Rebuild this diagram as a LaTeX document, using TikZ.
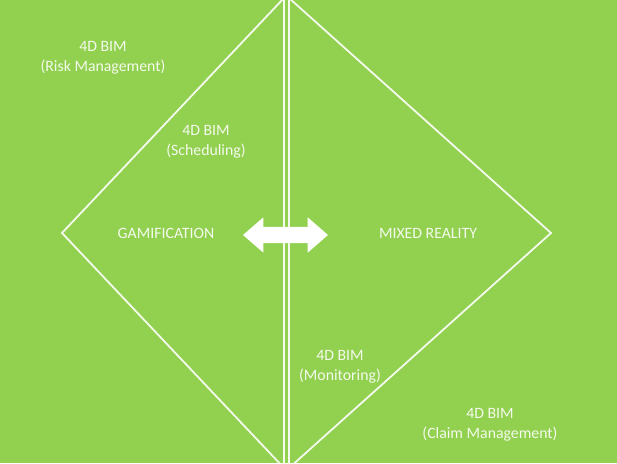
\documentclass[tikz,border=0pt]{standalone}
\usepackage{fontspec}
\setmainfont{Carlito}
\usetikzlibrary{shapes.arrows,positioning}
\definecolor{leafgreen}{RGB}{146,208,80}
\definecolor{chalk}{RGB}{244,250,236}

\begin{document}
\begin{tikzpicture}
	% Styles
	[
	x=1pt, y=-1pt,
	edge/.style={draw=chalk, line width=1.8pt},
	label/.style={text=chalk, align=center, font=\fontsize{15.8}{20}\selectfont, inner sep=0pt},
	swap/.style={double arrow, fill=white, inner xsep=0pt, inner ysep=8pt, minimum height=85pt,
		double arrow head extend=9.5pt, double arrow tip angle=82},
	]

	% Background
	\fill[leafgreen] (0,0) rectangle (617,463);
	\useasboundingbox (0,0) rectangle (617,463);
	\clip (0,0) rectangle (617,463);

	% Corners
	\coordinate (gtop)  at (284,-2);
	\coordinate (gleft) at (62,233);
	\coordinate (gbot)  at (284,468);
	\coordinate (mtop)  at (289,-2);
	\coordinate (mright) at (551,233);
	\coordinate (mbot)  at (289,468);

	% Nodes
	\node at (103,58)	(risk)	[label] {4D BIM\\(Risk Management)};
	\node at (206,142)	(sched)	[label] {4D BIM\\(Scheduling)};
	\node at (166,233)	(game)	[label] {GAMIFICATION};
	\node at (428,233)	(mixed)	[label] {MIXED REALITY};
	\node at (340,367)	(monit)	[label] {4D BIM\\(Monitoring)};
	\node at (490,425)	(claim)	[label] {4D BIM\\(Claim Management)};

	% Connections
	\draw[edge] (gtop) -- (gbot);
	\draw[edge] (mtop) -- (mbot);
	\draw[edge] (gtop) -- (gleft) -- (gbot);
	\draw[edge] (mtop) -- (mright) -- (mbot);
	\node at (285.5,235)	(link)	[swap] {};

\end{tikzpicture}
\end{document}
